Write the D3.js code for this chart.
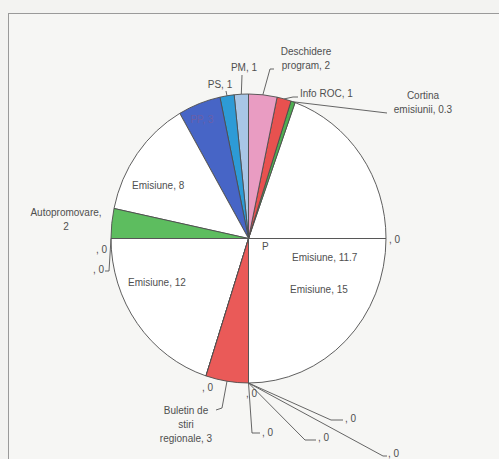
<!DOCTYPE html>
<html>
<head>
<meta charset="utf-8">
<script src="https://cdn.jsdelivr.net/npm/d3@7"></script>
<style>
  body { margin: 0; background: #f3f3f1; }
  svg { display: block; font-family: "Liberation Sans", Arial, sans-serif; }
</style>
</head>
<body>
<script>
// slices in drawing order, counter-clockwise from 3 o'clock
const names = ['', 'Emisiune', 'Cortina emisiunii', 'Info ROC', 'Deschidere program', 'PM', 'PS', 'PP',
               'Emisiune', 'Autopromovare', '', '', 'Emisiune', '', 'Buletin de stiri regionale',
               '', '', '', '', '', 'Emisiune'];
const values = [0, 11.7, 0.3, 1, 2, 1, 1, 3, 8, 2, 0, 0, 12, 0, 3, 0, 0, 0, 0, 0, 15];
const colors = ['#ffffff', '#ffffff', '#4fae52', '#e8514f', '#e99cc2', '#a8c6e6', '#2d9bd6', '#4765c6',
                '#ffffff', '#5dbd5f', '#ffffff', '#ffffff', '#ffffff', '#ffffff', '#ea5a58',
                '#ffffff', '#ffffff', '#ffffff', '#ffffff', '#ffffff', '#ffffff'];

const width = 499;
const height = 459;
const cx = 248.5, cy = 238.5;
const rx = 137.5, ry = 144.5;

// where each label sits (x, first baseline), anchor, word breaks, leader elbows
const layout = [
  { x: 389, y: 243, a: 'start' },
  { x: 292, y: 261, a: 'start' },
  { x: 423, y: 99, a: 'middle', br: [1], lead: [[387, 113]] },
  { x: 300, y: 97, a: 'start', lead: [[293, 97], [298, 97]] },
  { x: 306, y: 55, a: 'middle', br: [1], lead: [[270, 69], [274, 69]] },
  { x: 244, y: 71, a: 'middle', lead: [[242, 75]] },
  { x: 220, y: 88, a: 'middle', lead: [[226, 91]] },
  { x: 202, y: 123, a: 'middle', fill: '#6a5fa8' },
  { x: 132, y: 189, a: 'start' },
  { x: 66, y: 216, a: 'middle', br: [1] },
  { x: 107, y: 253, a: 'end' },
  { x: 104, y: 273, a: 'end', lead: [[109, 271], [105, 271]] },
  { x: 128, y: 286, a: 'start' },
  { x: 202, y: 391, a: 'start' },
  { x: 186, y: 414, a: 'middle', br: [2, 3], lead: [[222, 408], [216, 410]] },
  { x: 246, y: 397, a: 'start' },
  { x: 262, y: 436, a: 'start', lead: [[252, 433], [260, 433]] },
  { x: 318, y: 441, a: 'start', lead: [[305, 440], [316, 440]] },
  { x: 345, y: 422, a: 'start', lead: [[331, 420], [343, 420]] },
  { x: 388, y: 457, a: 'start', lead: [[383, 456], [387, 456]] },
  { x: 290, y: 293, a: 'start' }
];

const svg = d3.select('body')
  .append('svg')
  .attr('width', width)
  .attr('height', height);

// scanned frame
svg.append('rect')
  .attr('x', 8.5).attr('y', 13.5)
  .attr('width', 500).attr('height', 460)
  .attr('fill', '#f6f6f4')
  .attr('stroke', '#9a9a9a');

const pie = d3.pie()
  .sort(null)
  .value(d => d)
  .startAngle(Math.PI / 2)
  .endAngle(Math.PI / 2 - 2 * Math.PI);

const arcs = pie(values);

const arc = d3.arc().innerRadius(0).outerRadius(rx);

const g = svg.append('g')
  .attr('transform', 'translate(' + cx + ',' + cy + ') scale(1,' + (ry / rx) + ')');

g.selectAll('path')
  .data(arcs)
  .enter()
  .append('path')
  .attr('d', arc)
  .attr('fill', (d, i) => colors[i])
  .attr('stroke', '#4d4d4d')
  .attr('stroke-width', 0.9)
  .attr('vector-effect', 'non-scaling-stroke');

const edge = a => [cx + rx * Math.sin(a), cy - ry * Math.cos(a)];

// leader lines
arcs.forEach((d, i) => {
  const l = layout[i];
  if (!l.lead) return;
  const pts = [edge((d.startAngle + d.endAngle) / 2)].concat(l.lead);
  svg.append('path')
    .attr('d', d3.line()(pts))
    .attr('fill', 'none')
    .attr('stroke', '#555')
    .attr('stroke-width', 0.9);
});

// labels
arcs.forEach((d, i) => {
  const l = layout[i];
  const words = ((names[i] ? names[i] + ', ' : ', ') + values[i]).split(' ');
  const cuts = [0].concat(l.br || [], [words.length]);
  const t = svg.append('text')
    .attr('x', l.x).attr('y', l.y)
    .attr('text-anchor', l.a)
    .attr('font-size', 10)
    .attr('fill', l.fill || '#4f4f4f');
  for (let k = 0; k < cuts.length - 1; k++) {
    t.append('tspan')
      .attr('x', l.x)
      .attr('dy', k ? 14 : 0)
      .text(words.slice(cuts[k], cuts[k + 1]).join(' ').trim());
  }
});

svg.append('text')
  .attr('x', 262).attr('y', 250)
  .attr('font-size', 10)
  .attr('fill', '#4f4f4f')
  .text('P');
</script>
</body>
</html>
